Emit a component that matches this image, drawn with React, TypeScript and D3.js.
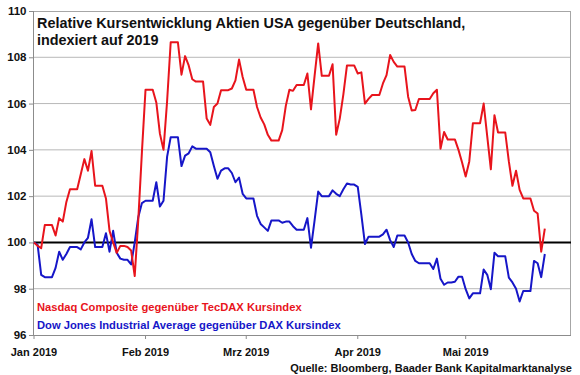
import React from "react";
import * as d3 from "d3";

// Daily values (calendar days from 1 Jan 2019; weekends/holidays hold the last value)
const startDate = "2019-01-01";
const nasdaqVsTecdax = [
  100, 99.85, 99.75, 100.75, 100.75, 100.75, 100.3, 101.05, 100.9, 101.75,
  102.3, 102.3, 102.3, 102.95, 103.6, 103.1, 103.95, 102.45, 102.45, 102.45,
  101.9, 100.5, 100.0, 99.55, 99.85, 99.85, 99.8, 99.65, 98.55, 101.0,
  103.9, 106.6, 106.6, 106.6, 106.05, 104.7, 104.0, 106.1, 108.65, 108.65,
  108.65, 107.25, 108.05, 107.65, 107.05, 106.95, 106.95, 106.95, 105.35, 105.08,
  105.85, 106.0, 106.58, 106.58, 106.58, 106.65, 107.0, 107.9, 107.15, 106.6,
  106.6, 106.6, 105.85, 105.4, 105.1, 104.65, 104.4, 104.4, 104.4, 104.85,
  105.9, 106.6, 106.55, 106.8, 106.8, 106.8, 107.3, 105.75, 107.2, 108.6,
  107.2, 107.2, 107.2, 107.7, 104.65, 105.35, 106.4, 107.65, 107.65, 107.65,
  107.3, 107.35, 106.0, 106.2, 106.37, 106.37, 106.37, 106.87, 107.23, 108.1,
  107.8, 107.6, 107.6, 107.6, 106.3, 105.7, 105.72, 106.2, 106.2, 106.2,
  106.2, 106.45, 106.6, 104.05, 104.77, 104.45, 104.45, 104.45, 104.0, 103.45,
  102.85, 103.5, 105.15, 105.15, 105.15, 106.0, 104.57, 103.16, 105.5, 104.75,
  104.75, 104.75, 103.5, 102.45, 103.1, 102.27, 101.9, 101.9, 101.9, 101.37,
  101.25, 99.6, 100.6,
];
const dowVsDax = [
  100, 99.9, 98.6, 98.5, 98.5, 98.5, 98.9, 99.6, 99.25, 99.5,
  99.8, 99.8, 99.8, 99.7, 100.0, 100.2, 101.0, 99.8, 99.8, 99.8,
  100.4, 99.6, 100.5, 99.55, 99.3, 99.25, 99.25, 99.05, 100.0, 101.1,
  101.7, 101.8, 101.8, 101.8, 102.6, 101.55, 101.8, 103.7, 104.55, 104.55,
  104.55, 103.3, 103.75, 103.85, 104.15, 104.05, 104.05, 104.05, 104.05, 103.9,
  103.3, 102.75, 103.1, 103.2, 103.2, 103.0, 102.6, 102.8, 102.1, 101.9,
  101.9, 101.9, 101.15, 100.8, 100.65, 100.5, 100.95, 100.95, 100.95, 100.85,
  100.9, 100.9, 100.7, 100.55, 100.55, 100.55, 101.05, 99.77, 100.95, 102.2,
  102.0, 102.0, 102.0, 102.25, 102.1, 102.0, 102.3, 102.55, 102.5, 102.5,
  102.4, 101.2, 99.93, 100.25, 100.25, 100.25, 100.25, 100.35, 100.55, 100.1,
  99.8, 100.3, 100.3, 100.3, 100.0, 99.5, 99.2, 99.1, 99.1, 99.1,
  99.1, 98.85, 99.3, 98.43, 98.17, 98.27, 98.27, 98.3, 98.52, 98.52,
  97.98, 97.58, 97.8, 97.8, 97.8, 98.83, 98.6, 97.98, 99.55, 99.4,
  99.4, 99.4, 98.48, 98.27, 98.0, 97.45, 97.9, 97.9, 97.9, 99.2,
  99.1, 98.5, 99.5,
];
const yTicks = [96, 98, 100, 102, 104, 106, 108, 110];
const monthStarts = ["2019-01-01", "2019-02-01", "2019-03-01", "2019-04-01", "2019-05-01"];
const monthLabels = ["Jan 2019", "Feb 2019", "Mrz 2019", "Apr 2019", "Mai 2019"];
const domainEnd = "2019-05-30";
const titleLines = ["Relative Kursentwicklung Aktien USA gegenüber Deutschland,", "indexiert auf 2019"];
const legendLabels = [
  "Nasdaq Composite gegenüber TecDAX Kursindex",
  "Dow Jones Industrial Average gegenüber DAX Kursindex",
];
const sourceText = "Quelle: Bloomberg, Baader Bank Kapitalmarktanalyse";

const RED = "#e8141c";
const BLUE = "#1616c8";
const FONT = "Arial, 'Liberation Sans', sans-serif";

export default function App() {
  const W = 580, H = 375;
  const left = 34, right = 571, top = 11, bottom = 335;
  const parse = d3.timeParse("%Y-%m-%d");
  const start = parse(startDate) as Date;
  const x = d3.scaleTime().domain([start, parse(domainEnd) as Date]).range([left, right - 1]);
  const y = d3.scaleLinear().domain([96, 110]).range([bottom, top]);
  const line = d3
    .line<number>()
    .x((_, i) => x(d3.timeDay.offset(start, i)))
    .y((v) => y(v));

  return (
    <svg width={W} height={H} style={{ position: "absolute", left: 0, top: 0, background: "#fff" }} fontFamily={FONT}>
      {yTicks.filter((t) => t !== 100 && t !== 96 && t !== 110).map((t) => (
        <line key={t} x1={left} x2={right} y1={y(t)} y2={y(t)} stroke="#b8b8b8" strokeWidth={1} />
      ))}
      <rect x={left - 0.5} y={top + 0.5} width={right - left} height={bottom - top} fill="none" stroke="#a6a6a6" strokeWidth={1} />
      <line x1={left - 0.5} x2={left - 0.5} y1={top} y2={bottom} stroke="#8c8c8c" />
      <line x1={left - 1} x2={right} y1={bottom + 0.5} y2={bottom + 0.5} stroke="#8c8c8c" />
      {yTicks.map((t) => (
        <g key={t}>
          <line x1={left - 5} x2={left} y1={y(t) + 0.5} y2={y(t) + 0.5} stroke="#8c8c8c" />
          <text x={26.5} y={y(t) + 4} textAnchor="end" fontSize={11.5} fontWeight="bold" fill="#111">{t}</text>
        </g>
      ))}
      {monthStarts.map((m, i) => {
        const px = x(parse(m) as Date);
        return (
          <g key={m}>
            <line x1={px} x2={px} y1={bottom} y2={bottom + 4} stroke="#8c8c8c" />
            <text x={px} y={356} textAnchor="middle" fontSize={11} fontWeight="bold" fill="#111">{monthLabels[i]}</text>
          </g>
        );
      })}
      <line x1={left} x2={right} y1={y(100)} y2={y(100)} stroke="#000" strokeWidth={2} />
      <path d={line(dowVsDax) || ""} fill="none" stroke={BLUE} strokeWidth={2} strokeLinejoin="round" />
      <path d={line(nasdaqVsTecdax) || ""} fill="none" stroke={RED} strokeWidth={2} strokeLinejoin="round" />
      {titleLines.map((t, i) => (
        <text key={i} x={37} y={28 + i * 17} fontSize={14.4} fontWeight="bold" fill="#111">{t}</text>
      ))}
      <text x={37} y={311} fontSize={11.2} fontWeight="bold" fill={RED}>{legendLabels[0]}</text>
      <text x={37} y={329} fontSize={11.2} fontWeight="bold" fill={BLUE}>{legendLabels[1]}</text>
      <text x={572} y={372} textAnchor="end" fontSize={11} fontWeight="bold" fill="#111">{sourceText}</text>
    </svg>
  );
}
